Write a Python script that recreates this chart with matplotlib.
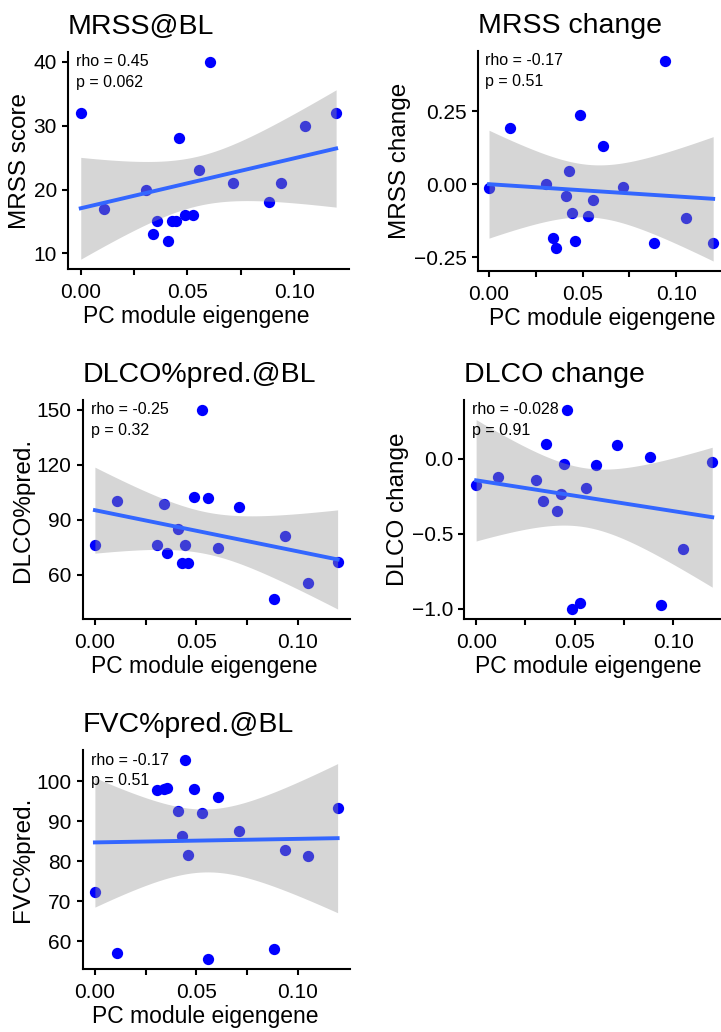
import matplotlib
matplotlib.use("Agg")
import matplotlib.pyplot as plt
import numpy as np

# module eigengene per subject (shared x for all panels)
eigengene = [0.000, 0.011, 0.0305, 0.034, 0.0356, 0.041, 0.0428, 0.0445, 0.0461,
             0.0487, 0.0528, 0.0556, 0.0606, 0.0713, 0.0882, 0.0938, 0.105, 0.1197]

mrss_bl = [32, 17, 20, 13, 15, 12, 15, 15, 28, 16, 16, 23, 40, 21, 18, 21, 30, 32]
mrss_change = [-0.0125, 0.192, 0.0, -0.183, -0.217, -0.039, 0.046, -0.10, -0.194,
               0.236, -0.11, -0.054, 0.131, -0.011, -0.203, 0.422, -0.115, -0.20]
dlco_bl = [76.2, 100.5, 76.2, 98.6, 71.9, 85.1, 66.3, 76.2, 66.3,
           102.4, 150.0, 102.1, 74.4, 96.8, 46.7, 81.1, 55.4, 67.0]
dlco_change = [-0.174, -0.121, -0.143, -0.282, 0.095, -0.35, -0.233, -0.037, 0.324,
               -1.002, -0.96, -0.194, -0.044, 0.093, 0.011, -0.976, -0.604, -0.02]
fvc_bl = [72.4, 57.0, 97.7, 98.0, 98.2, 92.5, 86.4, 105.3, 81.5,
          98.1, 92.0, 55.6, 96.0, 87.5, 58.1, 82.9, 81.3, 93.3]

titles = ["MRSS@BL", "MRSS change", "DLCO%pred.@BL", "DLCO change", "FVC%pred.@BL"]
ylabels = ["MRSS score", "MRSS change", "DLCO%pred.", "DLCO change", "FVC%pred."]
rho_labels = ["rho = 0.45", "rho = -0.17", "rho = -0.25", "rho = -0.028", "rho = -0.17"]
p_labels = ["p = 0.062", "p = 0.51", "p = 0.32", "p = 0.91", "p = 0.51"]
yticks = [[10, 20, 30, 40], [-0.25, 0.0, 0.25], [60, 90, 120, 150],
          [-1.0, -0.5, 0.0], [60, 70, 80, 90, 100]]
yfmt = ["{:.0f}", "{:.2f}", "{:.0f}", "{:.1f}", "{:.0f}"]
xticks = [0.0, 0.025, 0.05, 0.075, 0.10]
xticklabels = ["0.00", "", "0.05", "", "0.10"]

# axes rectangles [left, bottom, width, height] in figure fraction
rects = [[0.0943, 0.7393, 0.3896, 0.2103],
         [0.6627, 0.7374, 0.3420, 0.2132],
         [0.1148, 0.4002, 0.3703, 0.2122],
         [0.6440, 0.4002, 0.3602, 0.2122],
         [0.1148, 0.0610, 0.3703, 0.2122]]
# horizontal centre of the x title, axes fraction
xlabel_x = [0.456, 0.505, 0.455, 0.477, 0.46]

T_975_16 = 2.119905  # t quantile, 95% CI with n-2 = 16 df

plt.rcParams["font.family"] = ["Liberation Sans", "DejaVu Sans"]


def lm_band(x, y, n_grid=100):
    x = np.asarray(x, float)
    y = np.asarray(y, float)
    n = len(x)
    slope, icpt = np.polyfit(x, y, 1)
    resid = y - (icpt + slope * x)
    s = np.sqrt(np.sum(resid ** 2) / (n - 2))
    sxx = np.sum((x - x.mean()) ** 2)
    xg = np.linspace(x.min(), x.max(), n_grid)
    yg = icpt + slope * xg
    se = s * np.sqrt(1.0 / n + (xg - x.mean()) ** 2 / sxx)
    return xg, yg, yg - T_975_16 * se, yg + T_975_16 * se


def draw_panel(fig, rect, x, y, i):
    ax = fig.add_axes(rect)
    xg, yg, lo, hi = lm_band(x, y)

    ax.scatter(x, y, s=66, color="#0000FF", linewidths=0, zorder=2)
    ax.fill_between(xg, lo, hi, color="#999999", alpha=0.4, linewidth=0, zorder=3)
    ax.plot(xg, yg, color="#3366FF", lw=2.8, zorder=4)

    # ggplot-style 5% expansion around data + ribbon
    xmin, xmax = min(x), max(x)
    dx = (xmax - xmin) * 0.05
    ax.set_xlim(xmin - dx, xmax + dx)
    ymin = min(min(y), lo.min())
    ymax = max(max(y), hi.max())
    dy = (ymax - ymin) * 0.05
    ax.set_ylim(ymin - dy, ymax + dy)

    ax.set_xticks(xticks)
    ax.set_xticklabels(xticklabels)
    ax.set_yticks(yticks[i])
    ax.set_yticklabels([yfmt[i].format(v).replace("-", "\u2212") for v in yticks[i]])

    for side in ["top", "right"]:
        ax.spines[side].set_visible(False)
    for side in ["left", "bottom"]:
        ax.spines[side].set_linewidth(1.5)
    ax.tick_params(axis="both", length=4, width=1.5, labelsize=15, colors="black")
    ax.tick_params(axis="x", pad=6)
    ax.tick_params(axis="y", pad=4)

    ax.set_title(titles[i], loc="left", fontsize=20.5, pad=13)
    ax.set_ylabel(ylabels[i], fontsize=17.5, labelpad=2)
    ax.set_xlabel("PC module eigengene", fontsize=16.5)
    ax.xaxis.set_label_coords(xlabel_x[i], -0.165)

    ax.annotate(rho_labels[i], xy=(-0.002, max(y)), ha="left", va="center", fontsize=11.5)
    ax.annotate(p_labels[i], xy=(-0.002, max(y)), xytext=(0, -14.5),
                textcoords="offset points", ha="left", va="center", fontsize=11.5)
    return ax


fig = plt.figure(figsize=(7.21, 10.32), dpi=100)
series = [mrss_bl, mrss_change, dlco_bl, dlco_change, fvc_bl]
for i, (rect, yvals) in enumerate(zip(rects, series)):
    draw_panel(fig, rect, eigengene, yvals, i)

fig.savefig("out.png", dpi=100)
plt.close(fig)
